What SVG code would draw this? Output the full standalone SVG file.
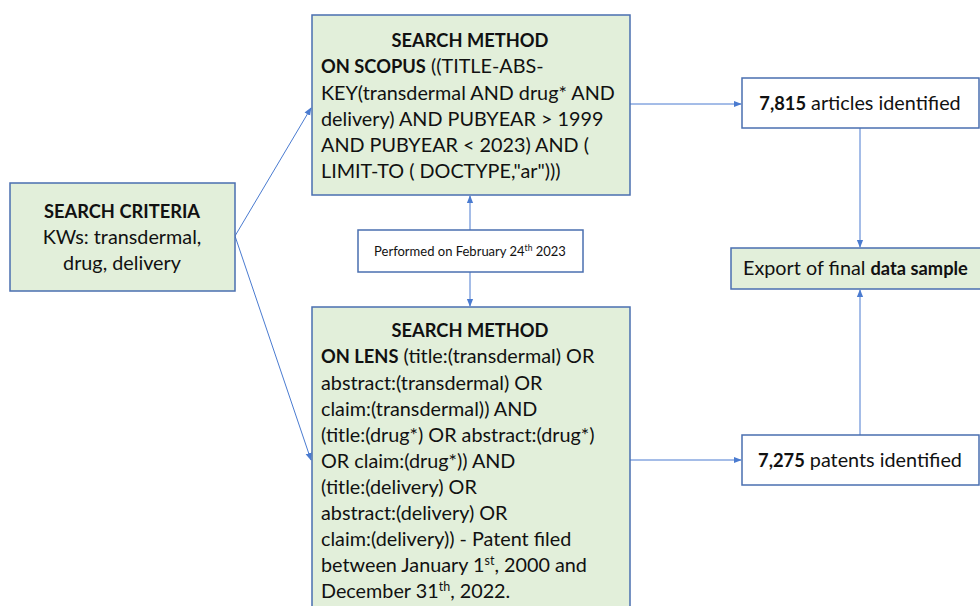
<svg xmlns="http://www.w3.org/2000/svg" width="980" height="606" viewBox="0 0 980 606">
<style>
.g{fill:#E2EFDA;stroke:#4A6FB0;stroke-width:1.5}
.w{fill:#FFFFFF;stroke:#4A6FB0;stroke-width:1.5}
text{font-family:Lato,"Open Sans",sans-serif;font-size:19.8px;fill:#111}
.b{font-weight:bold;font-size:18.3px}
.c{stroke:#4A7BD0;stroke-width:1;fill:none}
</style>
<defs>
<marker id="a" viewBox="0 0 10 10" refX="9" refY="5" markerWidth="8" markerHeight="8" orient="auto" markerUnits="userSpaceOnUse">
<path d="M0,1 L10,5 L0,9 z" fill="#4A7BD0"/>
</marker>
</defs>
<rect width="980" height="606" fill="#FFFFFF"/>
<g id="connectors">
<line class="c" x1="235" y1="236" x2="311" y2="108" marker-end="url(#a)"/>
<line class="c" x1="235" y1="236" x2="311" y2="460" marker-end="url(#a)"/>
<line class="c" x1="470" y1="230" x2="470" y2="196" marker-end="url(#a)"/>
<line class="c" x1="470" y1="272" x2="470" y2="306" marker-end="url(#a)"/>
<line class="c" x1="630" y1="104" x2="741" y2="104" marker-end="url(#a)"/>
<line class="c" x1="630" y1="460" x2="741" y2="460" marker-end="url(#a)"/>
<line class="c" x1="860" y1="128" x2="860" y2="247" marker-end="url(#a)"/>
<line class="c" x1="860" y1="435" x2="860" y2="290" marker-end="url(#a)"/>
</g>
<g id="criteria">
<rect class="g" x="10" y="183" width="225" height="108"/>
<text x="122" y="218" text-anchor="middle" class="b">SEARCH CRITERIA</text>
<text x="122" y="244" text-anchor="middle">KWs: transdermal,</text>
<text x="122" y="270" text-anchor="middle">drug, delivery</text>
</g>
<g id="scopus">
<rect class="g" x="312" y="15" width="318" height="180"/>
<text x="470" y="47" text-anchor="middle" class="b">SEARCH METHOD</text>
<text x="321" y="73"><tspan class="b">ON SCOPUS</tspan> ((TITLE-ABS-</text>
<text x="321" y="100">KEY(transdermal AND drug* AND</text>
<text x="321" y="126">delivery) AND PUBYEAR &gt; 1999</text>
<text x="321" y="152">AND PUBYEAR &lt; 2023) AND (</text>
<text x="321" y="178">LIMIT-TO ( DOCTYPE,"ar")))</text>
</g>
<g id="performed">
<rect class="w" x="358" y="230" width="225" height="42"/>
<text x="470" y="256" text-anchor="middle" style="font-size:13px">Performed on February 24<tspan dy="-5" style="font-size:8.5px">th</tspan><tspan dy="5"> 2023</tspan></text>
</g>
<g id="lens">
<rect class="g" x="312" y="307" width="318" height="310"/>
<text x="470" y="337" text-anchor="middle" class="b">SEARCH METHOD</text>
<text x="321" y="363"><tspan class="b">ON LENS</tspan> (title:(transdermal) OR</text>
<text x="321" y="390">abstract:(transdermal) OR</text>
<text x="321" y="416">claim:(transdermal)) AND</text>
<text x="321" y="442">(title:(drug*) OR abstract:(drug*)</text>
<text x="321" y="468">OR claim:(drug*)) AND</text>
<text x="321" y="494">(title:(delivery) OR</text>
<text x="321" y="520">abstract:(delivery) OR</text>
<text x="321" y="546">claim:(delivery)) - Patent filed</text>
<text x="321" y="572">between January 1<tspan dy="-7" style="font-size:12.5px">st</tspan><tspan dy="7">, 2000 and</tspan></text>
<text x="321" y="598">December 31<tspan dy="-7" style="font-size:12.5px">th</tspan><tspan dy="7">, 2022.</tspan></text>
</g>
<g id="articles">
<rect class="w" x="742" y="78" width="237" height="50"/>
<text x="860" y="110" text-anchor="middle"><tspan class="b">7,815</tspan> articles identified</text>
</g>
<g id="export">
<rect class="g" x="731" y="248" width="260" height="41"/>
<text x="743" y="275">Export of final <tspan class="b">data sample</tspan></text>
</g>
<g id="patents">
<rect class="w" x="742" y="435" width="237" height="50"/>
<text x="860" y="467" text-anchor="middle"><tspan class="b">7,275</tspan> patents identified</text>
</g>
</svg>
